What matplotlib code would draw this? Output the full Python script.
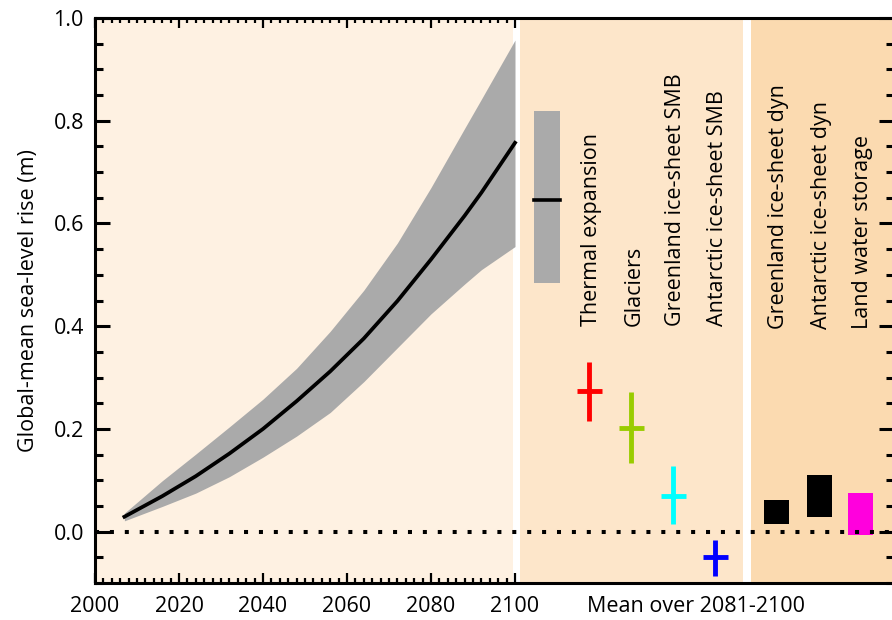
import numpy as np
import matplotlib.pyplot as plt

plt.rcParams['font.family'] = ['Open Sans', 'DejaVu Sans']

# Projection time series (m)
years = [2007, 2016, 2024, 2032, 2040, 2048, 2056, 2064, 2072, 2080, 2088, 2092, 2100]
slr_mean = [0.029, 0.069, 0.108, 0.152, 0.200, 0.254, 0.312, 0.376, 0.449, 0.530, 0.615, 0.660, 0.757]
slr_upper = [0.036, 0.099, 0.151, 0.204, 0.258, 0.318, 0.390, 0.470, 0.562, 0.670, 0.785, 0.842, 0.957]
slr_lower = [0.021, 0.049, 0.075, 0.107, 0.145, 0.186, 0.232, 0.292, 0.358, 0.424, 0.482, 0.510, 0.555]

# Total, mean over 2081-2100
total_mid = 0.646
total_range = [0.484, 0.819]

# Components with ranges (crosses)
comp_names = ["Thermal expansion", "Glaciers", "Greenland ice-sheet SMB", "Antarctic ice-sheet SMB"]
comp_mid = [0.273, 0.202, 0.070, -0.049]
comp_low = [0.215, 0.134, 0.014, -0.086]
comp_high = [0.331, 0.272, 0.128, -0.017]
comp_colors = ["#ff0000", "#99cc00", "#00ffff", "#0000ff"]

# Components shown as boxes
box_names = ["Greenland ice-sheet dyn", "Antarctic ice-sheet dyn", "Land water storage"]
box_low = [0.015, 0.028, -0.006]
box_high = [0.062, 0.110, 0.076]
box_colors = ["#000000", "#000000", "#ff00dd"]

FS = 15.5

fig = plt.figure(figsize=(8.92, 6.2), dpi=100)
ax = fig.add_axes([95 / 892, 37 / 620, 799 / 892, 565 / 620])
xmax = 2000 + 799 / 4.2
ax.set_xlim(2000, xmax)
ax.set_ylim(-0.1, 1.0)

# background panels
ax.axvspan(2000, 2099.5, color="#fef1e2", lw=0, zorder=0)
ax.axvspan(2101.3, 2154.3, color="#fde6ca", lw=0, zorder=0)
ax.axvspan(2156.3, xmax, color="#fbdab0", lw=0, zorder=0)

# time series
ax.fill_between(years, slr_lower, slr_upper, color="#aaaaaa", lw=0, zorder=1)
ax.plot(years, slr_mean, color="black", lw=2.7, zorder=2)

# total box
ax.bar(2107.65, total_range[1] - total_range[0], bottom=total_range[0], width=6.1,
       color="#aaaaaa", zorder=1)
ax.plot([2104.6, 2110.7], [total_mid, total_mid], color="black", lw=2.6, zorder=2)

# crosses
cx = [2117.7, 2127.7, 2137.7, 2147.7]
for x, m, lo, hi, c, name in zip(cx, comp_mid, comp_low, comp_high, comp_colors, comp_names):
    ax.plot([x, x], [lo, hi], color=c, lw=3.5, solid_capstyle="butt", zorder=3)
    ax.plot([x - 3, x + 3], [m, m], color=c, lw=3.5, solid_capstyle="butt", zorder=3)
    ax.text(x + 0.6, 0.40, name, rotation=90, ha="center", va="bottom", fontsize=FS)

bx = [2162.3, 2172.4, 2182.3]
for x, lo, hi, c, name in zip(bx, box_low, box_high, box_colors, box_names):
    ax.bar(x, hi - lo, bottom=lo, width=5.95, color=c, zorder=3)
    ax.text(x + 0.5, 0.395, name, rotation=90, ha="center", va="bottom", fontsize=FS)

# zero line
ax.axhline(0, color="black", lw=2.9, ls=(0, (1, 2.7)), zorder=4)

# ticks
ax.set_xticks(np.arange(2000, 2101, 20))
ax.set_xticks(np.arange(2000, 2101, 2), minor=True)
ax.set_yticks(np.arange(0, 1.01, 0.2))
ax.set_yticks(np.arange(-0.1, 1.01, 0.05), minor=True)
ax.set_yticklabels([f"{v:.1f}" for v in np.arange(0, 1.01, 0.2)])
ax.tick_params(axis="y", which="both", direction="in", left=True, right=True, width=2.2, labelsize=FS, pad=8)
ax.tick_params(axis="y", which="major", length=11)
ax.tick_params(axis="y", which="minor", length=6)
ax.tick_params(axis="x", which="both", direction="in", top=True, bottom=True, width=1.6, labelsize=FS, pad=9)
ax.tick_params(axis="x", which="major", length=7)
ax.tick_params(axis="x", which="minor", length=3.6)
for s in ax.spines.values():
    s.set_linewidth(2.2)

ax.annotate("Mean over 2081-2100", xy=(2143, -0.1), xytext=(0, -9), textcoords="offset points",
            ha="center", va="top", fontsize=FS)
ax.set_ylabel("Global-mean sea-level rise (m)", fontsize=FS, labelpad=10)

fig.savefig("out.png", dpi=100)
